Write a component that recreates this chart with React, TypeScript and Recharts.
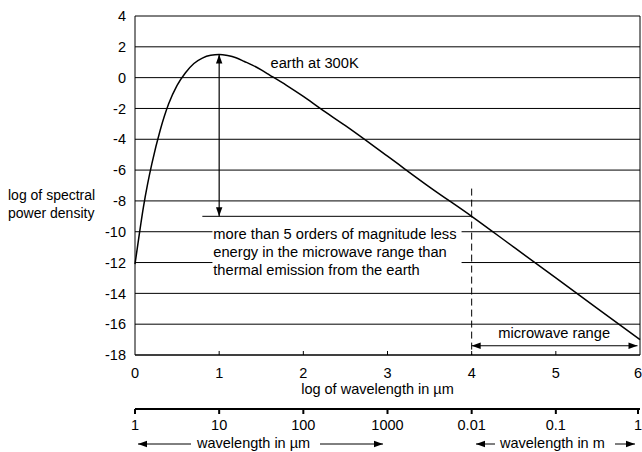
import React from 'react';
import {
  ComposedChart,
  Line,
  XAxis,
  YAxis,
  CartesianGrid,
  ReferenceLine,
  ReferenceArea,
  ReferenceDot,
} from 'recharts';

// log10 wavelength (um) vs log spectral power density
const curveX = [0, 0.05, 0.1, 0.15, 0.2, 0.3, 0.4, 0.5, 0.6, 0.7, 0.8, 0.9, 1.0, 1.1, 1.2, 1.3, 1.4, 1.5, 1.6, 1.8, 2.0, 2.2, 2.5, 3.0, 3.5, 4.0, 4.5, 5.0, 5.5, 6.0];
const curveY = [-12.1, -10.2, -8.4, -6.9, -5.6, -3.4, -1.7, -0.5, 0.32, 0.92, 1.27, 1.45, 1.5, 1.43, 1.29, 1.05, 0.8, 0.5, 0.17, -0.5, -1.22, -2, -3.12, -5.1, -7.1, -9, -11, -13, -15, -17];

const xTicks = [0, 1, 2, 3, 4, 5, 6];
const yTicks = [-18, -16, -14, -12, -10, -8, -6, -4, -2, 0, 2, 4];

// lower wavelength scale: ticks at 1, 5, 10, 50 ... expressed in log10(um)
const scaleTicks = [0, 0.699, 1, 1.699, 2, 2.699, 3, 3.699, 4, 4.699, 5, 5.699, 6];
const scaleLabels = ['1', '10', '100', '1000', '0.01', '0.1', '1'];

const noteLines = [
  'more than 5 orders of magnitude less',
  'energy in the microwave range than',
  'thermal emission from the earth',
];

const data = curveX.map((x, i) => ({ x, y: curveY[i] }));

const FONT = 'Liberation Sans, Arial, sans-serif';

// small filled arrow head pointing from (x1,y1) toward (x2,y2), tip at (x2,y2)
function head(x1: number, y1: number, x2: number, y2: number, key: string) {
  const a = Math.atan2(y2 - y1, x2 - x1);
  const len = 9;
  const w = 3.2;
  const bx = x2 - len * Math.cos(a);
  const by = y2 - len * Math.sin(a);
  const px = -Math.sin(a) * w;
  const py = Math.cos(a) * w;
  return <polygon key={key} points={`${x2},${y2} ${bx + px},${by + py} ${bx - px},${by - py}`} fill="#000" />;
}

const DoubleArrow = (props: any) => {
  const { x1, y1, x2, y2 } = props;
  if (x1 == null) return null;
  return (
    <g>
      <line x1={x1} y1={y1} x2={x2} y2={y2} stroke="#000" strokeWidth={1.2} />
      {head(x2, y2, x1, y1, 'a')}
      {head(x1, y1, x2, y2, 'b')}
    </g>
  );
};

const MainTick = (props: any) => {
  const { x, y, payload } = props;
  return (
    <g>
      {payload.value > 0 && payload.value < 6 && <line x1={x} y1={y} x2={x} y2={y - 4} stroke="#000" />}
      <text x={x} y={y + 23} textAnchor="middle" fontSize={14.5} fontFamily={FONT} fill="#000">
        {payload.value}
      </text>
    </g>
  );
};

const ScaleTick = (props: any) => {
  const { x, y, payload } = props;
  const idx = xTicks.indexOf(payload.value);
  return (
    <g>
      <line x1={x} y1={y} x2={x} y2={y + 5} stroke="#000" strokeWidth={2} />
      {idx >= 0 && (
        <text x={x} y={y + 21} textAnchor="middle" fontSize={14.5} fontFamily={FONT} fill="#000">
          {scaleLabels[idx]}
        </text>
      )}
    </g>
  );
};

const ScaleCaption = (props: any) => {
  const vb = props.viewBox;
  if (!vb) return null;
  const y = vb.y + 35;
  const left = vb.x;
  const right = vb.x + vb.width;
  return (
    <g fontFamily={FONT} fontSize={14.5} fill="#000">
      <line x1={left + 3} y1={y} x2={left + 56} y2={y} stroke="#000" />
      {head(left + 56, y, left + 3, y, 'l1')}
      <text x={left + 62} y={y + 4}>wavelength in µm</text>
      <line x1={left + 185} y1={y} x2={left + 248} y2={y} stroke="#000" />
      {head(left + 185, y, left + 248, y, 'r1')}
      <line x1={left + 341} y1={y} x2={left + 360} y2={y} stroke="#000" />
      {head(left + 360, y, left + 341, y, 'l2')}
      <text x={left + 365} y={y + 4}>wavelength in m</text>
      <line x1={right - 25} y1={y} x2={right - 5} y2={y} stroke="#000" />
      {head(right - 25, y, right - 5, y, 'r2')}
    </g>
  );
};

const YCaption = (props: any) => {
  const vb = props.viewBox;
  if (!vb) return null;
  return (
    <text x={8} y={200} fontFamily={FONT} fontSize={14} fill="#000">
      <tspan x={8} dy={0}>log of spectral</tspan>
      <tspan x={8} dy={18}>power density</tspan>
    </text>
  );
};

const textAt = (lines: string[], anchor: string = 'start') => (props: any) => {
  const vb = props.viewBox;
  if (!vb) return null;
  const cx = vb.x + (vb.width || 0) / 2;
  const cy = vb.y + (vb.height || 0) / 2;
  return (
    <text x={cx} y={cy + 5} fontFamily={FONT} fontSize={14.7} fill="#000" textAnchor={anchor}>
      {lines.map((l, i) => (
        <tspan key={i} x={cx} dy={i === 0 ? 0 : 18}>
          {l}
        </tspan>
      ))}
    </text>
  );
};

export default function App() {
  return (
    <div style={{ position: 'absolute', left: 0, top: 0, background: '#fff' }}>
      <ComposedChart width={642} height={452} data={data} margin={{ top: 16, right: 2, left: 0, bottom: 0 }}>
        <CartesianGrid horizontal vertical={false} stroke="#000" strokeOpacity={1} />
        <XAxis
          xAxisId="main"
          dataKey="x"
          type="number"
          domain={[0, 6]}
          ticks={xTicks}
          tick={<MainTick />}
          tickLine={false}
          tickSize={0}
          tickMargin={0}
          height={54}
          axisLine={{ stroke: '#000' }}
          label={{
            value: 'log of wavelength in µm',
            position: 'insideTop',
            offset: 29,
            dx: -10,
            fontSize: 14.5,
            fontFamily: FONT,
            fill: '#000',
          }}
        />
        <XAxis
          xAxisId="scale"
          dataKey="x"
          type="number"
          domain={[0, 6]}
          ticks={scaleTicks}
          tick={<ScaleTick />}
          tickLine={false}
          tickSize={0}
          tickMargin={0}
          height={43}
          axisLine={{ stroke: '#000', strokeWidth: 2 }}
          label={<ScaleCaption />}
        />
        <YAxis
          type="number"
          domain={[-18, 4]}
          ticks={yTicks}
          width={135}
          tickLine={false}
          tickMargin={3}
          axisLine={{ stroke: '#000' }}
          tick={{ fontSize: 14.5, fontFamily: FONT, fill: '#000' }}
          label={<YCaption />}
        />
        <ReferenceLine xAxisId="main" x={6} stroke="#000" />
        <ReferenceArea xAxisId="main" x1={0.92} x2={3.88} y1={-9.55} y2={-13.2} fill="#fff" fillOpacity={1} stroke="none" />
        <ReferenceLine xAxisId="main" segment={[{ x: 0.8, y: -9 }, { x: 4, y: -9 }]} stroke="#000" />
        <ReferenceLine xAxisId="main" segment={[{ x: 4, y: -7.2 }, { x: 4, y: -18 }]} stroke="#000" strokeDasharray="7 4" />
        <ReferenceLine xAxisId="main" segment={[{ x: 1, y: 1.5 }, { x: 1, y: -9 }]} shape={<DoubleArrow />} />
        <ReferenceLine xAxisId="main" segment={[{ x: 4, y: -17.4 }, { x: 5.97, y: -17.4 }]} shape={<DoubleArrow />} />
        <ReferenceDot xAxisId="main" x={1.61} y={0.95} r={0} stroke="none" label={textAt(['earth at 300K'])} />
        <ReferenceDot xAxisId="main" x={0.93} y={-10.15} r={0} stroke="none" label={textAt(noteLines)} />
        <ReferenceDot xAxisId="main" x={4.98} y={-16.6} r={0} stroke="none" label={textAt(['microwave range'], 'middle')} />
        <Line
          xAxisId="main"
          type="monotone"
          dataKey="y"
          stroke="#000"
          strokeWidth={1.5}
          dot={false}
          activeDot={false}
          isAnimationActive={false}
        />
      </ComposedChart>
    </div>
  );
}
